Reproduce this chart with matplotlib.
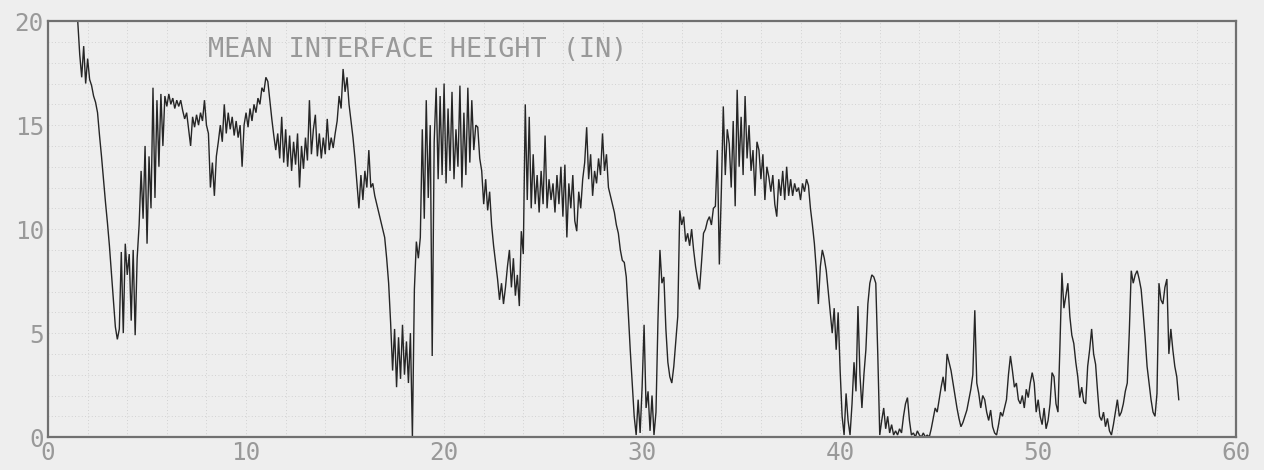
import numpy as np
import matplotlib.pyplot as plt

# Interface height record, sampled every 0.1 on the time axis starting at 1.5
t_start = 1.5
t_step = 0.1
height = [
    20.0, 18.4, 17.3, 18.8, 17.0,
    18.2, 17.2, 16.9, 16.4, 16.1, 15.6, 14.5, 13.5, 12.4, 11.3,
    10.3, 9.2, 7.9, 6.6, 5.3, 4.7, 5.2, 8.9, 5.0, 9.3,
    7.8, 8.8, 5.6, 9.0, 4.9, 8.6, 10.2, 12.8, 10.5, 14.0,
    9.3, 13.5, 11.0, 16.8, 11.5, 16.2, 13.0, 16.5, 14.0, 16.4,
    15.9, 16.5, 16.0, 16.3, 15.8, 16.2, 15.9, 16.2, 15.7, 15.3,
    15.6, 14.8, 14.0, 15.4, 14.9, 15.5, 15.0, 15.6, 15.2, 16.2,
    15.0, 14.6, 12.0, 13.2, 11.6, 13.5, 14.2, 15.0, 14.2, 16.0,
    14.6, 15.6, 14.8, 15.4, 14.5, 15.2, 14.4, 15.0, 13.0, 15.0,
    15.6, 14.9, 15.8, 15.2, 16.0, 15.6, 16.3, 16.0, 16.8, 16.6,
    17.3, 17.1, 16.2, 15.3, 14.5, 13.8, 14.6, 13.4, 15.4, 13.2,
    14.8, 13.0, 14.5, 12.8, 14.2, 13.1, 14.6, 12.0, 14.0, 12.9,
    14.4, 13.3, 16.2, 13.6, 14.8, 15.5, 13.5, 14.6, 13.4, 14.4,
    13.6, 15.3, 13.8, 14.4, 13.9, 14.6, 15.2, 16.4, 15.8, 17.7,
    16.6, 17.3, 16.0, 15.2, 14.4, 13.4, 12.2, 11.0, 12.6, 11.4,
    12.8, 12.0, 13.8, 12.0, 12.2, 11.6, 11.2, 10.8, 10.4, 10.0,
    9.6, 8.6, 7.4, 5.5, 3.2, 5.2, 2.4, 4.8, 2.8, 5.4,
    3.0, 4.6, 2.6, 5.0, 0.0, 7.1, 9.4, 8.6, 9.6, 14.8,
    10.5, 16.2, 11.5, 15.0, 3.9, 14.2, 16.8, 12.4, 16.4, 12.6,
    17.0, 12.2, 15.8, 12.8, 16.6, 12.4, 14.8, 13.0, 16.9, 12.0,
    15.6, 12.6, 16.8, 13.2, 16.2, 13.8, 15.0, 14.9, 13.4, 12.8,
    11.2, 12.4, 10.9, 11.8, 10.2, 9.2, 8.4, 7.6, 6.6, 7.4,
    6.4, 7.2, 8.2, 9.0, 7.2, 8.6, 6.8, 7.8, 6.3, 9.9,
    8.8, 16.0, 11.4, 15.4, 11.0, 13.6, 11.2, 12.6, 10.8, 12.8,
    11.2, 14.5, 11.0, 12.4, 11.4, 12.2, 10.8, 12.6, 11.2, 13.0,
    10.6, 13.1, 9.6, 12.2, 11.0, 12.6, 10.4, 9.9, 11.8, 11.0,
    12.4, 13.2, 14.9, 12.4, 13.6, 11.6, 12.8, 12.2, 13.4, 12.6,
    14.6, 12.8, 13.6, 12.0, 11.6, 11.2, 10.8, 10.2, 9.8, 9.0,
    8.5, 8.4, 7.7, 6.0, 4.2, 2.6, 1.0, 0.1, 1.8, 0.2,
    2.4, 5.4, 1.4, 2.2, 0.3, 2.0, 0.1, 1.2, 5.6, 9.0,
    7.4, 7.7, 5.2, 3.6, 2.9, 2.6, 3.4, 4.6, 5.8, 10.9,
    10.2, 10.6, 9.4, 9.8, 9.2, 10.0, 9.0, 8.2, 7.6, 7.1,
    8.4, 9.8, 10.0, 10.4, 10.6, 10.2, 11.0, 11.1, 13.8, 8.3,
    11.8, 15.9, 12.6, 14.8, 14.1, 12.0, 15.2, 11.1, 16.7, 13.0,
    15.4, 12.6, 16.4, 13.4, 15.0, 12.8, 13.8, 11.6, 14.2, 13.8,
    12.4, 13.6, 11.4, 13.0, 12.5, 11.8, 12.6, 11.2, 10.6, 12.4,
    11.6, 12.8, 11.4, 13.0, 11.6, 12.4, 11.6, 12.2, 11.8, 12.0,
    11.4, 12.2, 11.8, 12.4, 12.1, 11.0, 10.2, 9.3, 8.0, 6.4,
    8.2, 9.0, 8.6, 8.0, 7.0, 6.0, 5.0, 6.2, 4.2, 6.0,
    3.2, 1.0, 0.1, 2.1, 0.8, 0.1, 1.6, 3.6, 2.2, 6.3,
    3.0, 1.4, 3.0, 4.2, 6.4, 7.4, 7.8, 7.7, 7.4, 4.0,
    0.1, 0.8, 1.4, 0.4, 1.0, 0.2, 0.6, 0.1, 0.3, 0.1,
    0.4, 0.2, 1.0, 1.6, 1.9, 0.8, 0.1, 0.2, 0.0, 0.3,
    0.1, 0.0, 0.2, 0.0, 0.1, 0.0, 0.4, 0.9, 1.4, 1.2,
    1.8, 2.4, 2.9, 2.2, 4.0, 3.6, 3.2, 2.6, 2.0, 1.4,
    0.9, 0.5, 0.7, 1.0, 1.3, 1.8, 2.3, 3.0, 6.1, 2.6,
    2.1, 1.4, 2.0, 1.8, 1.2, 0.8, 1.3, 0.5, 0.2, 0.1,
    0.6, 1.2, 1.0, 1.4, 1.8, 3.0, 3.9, 3.2, 2.4, 2.6,
    1.8, 1.6, 2.0, 1.4, 2.3, 1.9, 2.6, 3.1, 2.6, 1.2,
    1.8, 1.0, 0.6, 1.4, 0.4, 0.8, 1.6, 3.1, 2.9, 1.6,
    1.2, 4.4, 7.9, 6.2, 6.8, 7.4, 5.8, 4.9, 4.5, 3.6,
    2.9, 1.9, 2.4, 1.7, 1.6, 3.4, 4.2, 5.2, 4.0, 3.5,
    2.2, 1.0, 0.8, 1.2, 0.5, 0.9, 0.3, 0.1, 0.6, 1.2,
    1.8, 1.0, 1.2, 1.6, 2.2, 2.6, 5.0, 8.0, 7.4, 7.8,
    8.0, 7.6, 7.1, 6.0, 4.8, 3.4, 2.6, 1.8, 1.2, 1.0,
    2.1, 7.4, 6.6, 6.4, 7.2, 7.6, 4.0, 5.2, 4.2, 3.4,
    2.9, 1.8,
]

x_ticks = [0, 10, 20, 30, 40, 50, 60]
y_ticks = [0, 5, 10, 15, 20]
title = "MEAN INTERFACE HEIGHT (IN)"

paper = "#eeeeee"
ink = "#999999"

t = t_start + t_step * np.arange(len(height))

fig = plt.figure(figsize=(12.64, 4.70), dpi=100, facecolor=paper)
ax = fig.add_axes([0.038, 0.070, 0.940, 0.885], facecolor=paper)

ax.plot(t, height, color="#262626", lw=1.0, solid_joinstyle="miter")

ax.set_xlim(0, 60)
ax.set_ylim(0, 20)

# faint dotted graph-paper grid
ax.set_xticks(np.arange(0, 61, 2), minor=True)
ax.set_yticks(np.arange(0, 21, 1), minor=True)
ax.grid(which="both", color="#c8c8c8", lw=0.6, ls=(0, (1, 3)))
ax.set_axisbelow(True)

ax.set_xticks(x_ticks)
ax.set_yticks(y_ticks)
ax.set_xticklabels([str(v) for v in x_ticks])
ax.set_yticklabels([str(v) for v in y_ticks])
ax.tick_params(which="both", length=0)
ax.tick_params(axis="x", pad=3)
ax.tick_params(axis="y", pad=3)
for lab in ax.get_xticklabels() + ax.get_yticklabels():
    lab.set_family("DejaVu Sans Mono")
    lab.set_fontsize(17.5)
    lab.set_color(ink)

for sp in ax.spines.values():
    sp.set_color("#707070")
    sp.set_linewidth(1.6)

ax.text(8.1, 18.6, title, family="DejaVu Sans Mono", fontsize=19.3,
        color=ink, va="center", ha="left")

fig.savefig("out.png", dpi=100, facecolor=paper)
